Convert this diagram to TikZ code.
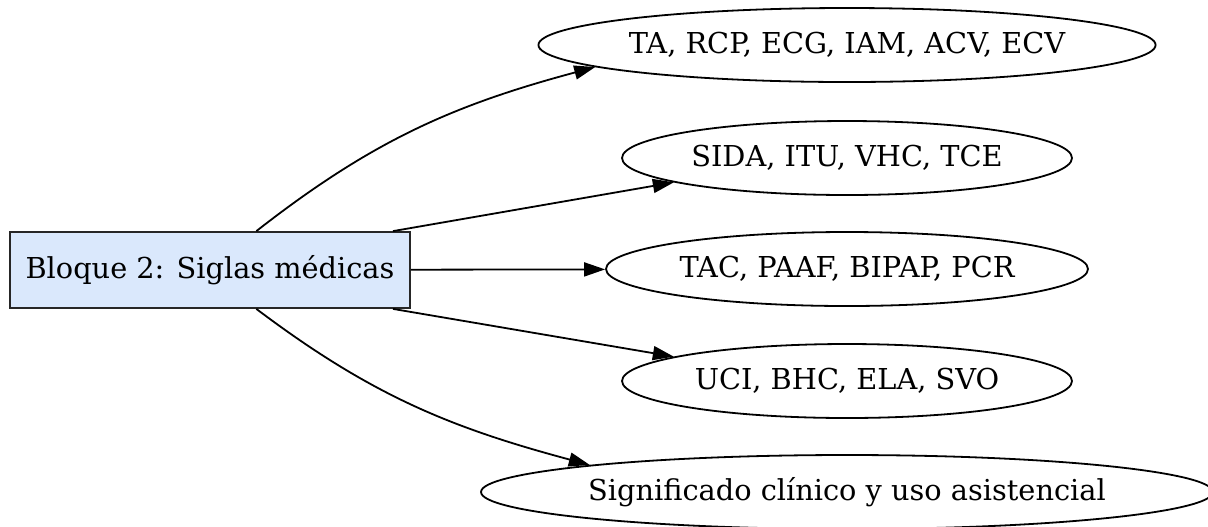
\documentclass[tikz,border=0pt]{standalone}
\usepackage{fontspec}
\setmainfont{DejaVu Serif}
\usetikzlibrary{shapes.geometric,arrows.meta}

\begin{document}
\begin{tikzpicture}[x=0.5pt,y=0.5pt,
  bloque/.style={draw=black!85, fill=colBloque, line width=0.9pt, rectangle,
    minimum width=200pt, minimum height=38pt, inner sep=0pt},
  sigla/.style={draw=black, line width=0.9pt, ellipse, inner sep=0pt, minimum height=37pt},
  flecha/.style={draw=black, line width=0.9pt, -{Triangle[length=10.5pt,width=7pt]}},
  every node/.style={font=\fontsize{14.4}{17}\selectfont}]

% Colori
\definecolor{colBloque}{HTML}{DAE8FC}

% Margini
\useasboundingbox (0,0) rectangle (1208,-526);

% Nodo centrale
\node[bloque] (bq) at (210,-270) {Bloque 2: Siglas médicas};

% Ellissi
\node[sigla, minimum width=307pt] (e1) at (847,-45) {TA, RCP, ECG, IAM, ACV, ECV};
\node[sigla, minimum width=225pt] (e2) at (847,-158) {SIDA, ITU, VHC, TCE};
\node[sigla, minimum width=241pt] (e3) at (847,-269) {TAC, PAAF, BIPAP, PCR};
\node[sigla, minimum width=225pt] (e4) at (847,-381) {UCI, BHC, ELA, SVO};
\node[sigla, minimum width=363pt] (e5) at (847,-492) {Significado clínico y uso asistencial};

% Frecce
\draw[flecha] (bq.40) to[out=38,in=195] (e1.185);
\draw[flecha] (bq.12) -- (e2.188);
\draw[flecha] (bq) -- (e3);
\draw[flecha] (bq.-12) -- (e4.172);
\draw[flecha] (bq.-40) to[out=-37,in=165] (e5.174);

\end{tikzpicture}
\end{document}
